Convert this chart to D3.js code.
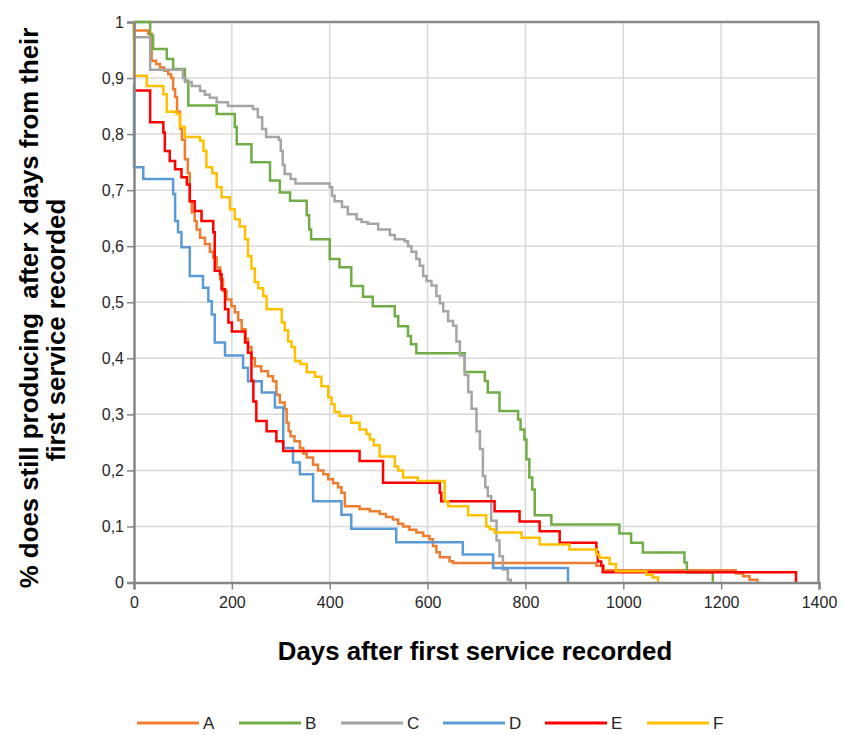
<!DOCTYPE html>
<html><head><meta charset="utf-8">
<script src="https://cdn.jsdelivr.net/npm/d3@7"></script>
<style>body{margin:0;background:#fff;}svg{display:block;font-family:"Liberation Sans",Arial,sans-serif;}</style>
</head><body><svg id="chart" width="842" height="735"></svg>
<script>
const seriesNames = ["A","B","C","D","E","F"];
const seriesColors = ["#ED7D31","#70AD47","#A5A5A5","#5B9BD5","#FF0000","#FFC000"];
const xTicks = [0,200,400,600,800,1000,1200,1400];
const yTicks = [0,0.1,0.2,0.3,0.4,0.5,0.6,0.7,0.8,0.9,1];
const yTickLabels = ["0","0,1","0,2","0,3","0,4","0,5","0,6","0,7","0,8","0,9","1"];
const xTitle = "Days after first service recorded";
const yTitleLines = ["% does still producing  after x days from their","first service recorded"];

// [day, share still producing] step points
const seriesA = [[0,1],[0,0.985],[29,0.979],[36,0.931],[45,0.925],[53,0.919],[62,0.913],[70,0.907],[76,0.9],[80,0.88],[84,0.866],[88,0.84],[94,0.81],[98,0.79],[104,0.755],[110,0.73],[114,0.68],[118,0.66],[124,0.645],[128,0.63],[135,0.615],[145,0.604],[155,0.59],[162,0.58],[169,0.562],[176,0.541],[182,0.52],[189,0.505],[199,0.493],[206,0.482],[213,0.468],[220,0.452],[228,0.435],[233,0.42],[240,0.4],[247,0.386],[260,0.377],[274,0.368],[284,0.359],[291,0.335],[298,0.321],[308,0.309],[312,0.285],[316,0.27],[320,0.261],[328,0.252],[339,0.24],[346,0.23],[353,0.223],[366,0.21],[376,0.2],[387,0.193],[397,0.184],[407,0.177],[417,0.17],[424,0.16],[431,0.136],[461,0.131],[482,0.127],[502,0.122],[515,0.117],[529,0.1125],[540,0.105],[550,0.1],[563,0.094],[577,0.089],[591,0.083],[604,0.077],[611,0.065],[618,0.054],[625,0.045],[645,0.038],[652,0.035],[945,0.03],[960,0.022],[1230,0.016],[1245,0.011],[1258,0.005],[1274,0]];
const seriesB = [[0,1],[33,0.976],[39,0.952],[67,0.934],[80,0.916],[104,0.895],[111,0.851],[169,0.836],[206,0.8125],[210,0.782],[240,0.75],[278,0.717],[298,0.696],[319,0.681],[353,0.655],[358,0.63],[362,0.6125],[400,0.577],[420,0.5625],[444,0.529],[468,0.51],[488,0.493],[533,0.475],[540,0.457],[560,0.44],[566,0.425],[577,0.409],[676,0.3755],[717,0.3595],[723,0.339],[747,0.306],[785,0.291],[790,0.273],[798,0.255],[802,0.22],[808,0.1875],[814,0.166],[819,0.12],[853,0.1036],[992,0.0875],[1016,0.071],[1040,0.0536],[1125,0.0357],[1130,0.018],[1183,0]];
const seriesC = [[0,1],[0,0.973],[33,0.915],[100,0.9],[105,0.893],[118,0.886],[135,0.877],[145,0.87],[155,0.865],[169,0.857],[192,0.85],[243,0.845],[253,0.83],[262,0.809],[270,0.795],[296,0.79],[300,0.77],[304,0.745],[308,0.729],[320,0.72],[330,0.712],[400,0.705],[405,0.69],[410,0.68],[425,0.67],[437,0.657],[455,0.648],[465,0.643],[478,0.64],[499,0.63],[523,0.62],[533,0.6125],[553,0.609],[560,0.6],[567,0.59],[577,0.577],[584,0.565],[591,0.547],[598,0.538],[608,0.53],[618,0.511],[625,0.498],[632,0.484],[642,0.4666],[652,0.458],[659,0.43],[666,0.405],[676,0.37],[683,0.34],[690,0.31],[700,0.27],[707,0.238],[713,0.19],[718,0.17],[723,0.154],[730,0.11],[741,0.075],[747,0.047],[754,0.023],[764,0.005],[770,0]];
const seriesD = [[0,0.89],[0,0.741],[19,0.72],[80,0.693],[84,0.645],[90,0.625],[97,0.598],[114,0.547],[141,0.526],[152,0.502],[159,0.478],[165,0.428],[186,0.405],[223,0.383],[233,0.359],[261,0.339],[288,0.312],[305,0.24],[325,0.214],[339,0.193],[366,0.145],[424,0.121],[444,0.0958],[536,0.072],[672,0.05],[734,0.026],[887,0]];
const seriesE = [[0,0.878],[33,0.821],[60,0.803],[63,0.77],[73,0.752],[84,0.7375],[97,0.723],[108,0.71],[114,0.68],[124,0.663],[138,0.645],[162,0.625],[165,0.556],[176,0.55],[179,0.523],[186,0.4875],[193,0.464],[200,0.448],[227,0.428],[233,0.41],[240,0.36],[244,0.323],[250,0.288],[271,0.27],[291,0.252],[305,0.2345],[461,0.2166],[509,0.178],[625,0.16],[628,0.145],[737,0.127],[788,0.109],[829,0.0916],[870,0.071],[945,0.054],[948,0.0375],[955,0.03],[958,0.0184],[1353,0]];
const seriesF = [[0,1],[0,0.904],[26,0.886],[60,0.871],[67,0.84],[87,0.836],[94,0.8125],[104,0.795],[135,0.788],[142,0.77],[148,0.741],[160,0.73],[169,0.705],[179,0.6875],[196,0.666],[206,0.648],[216,0.635],[227,0.6125],[233,0.582],[240,0.56],[247,0.536],[254,0.525],[264,0.511],[271,0.4875],[302,0.464],[308,0.45],[315,0.43],[322,0.42],[329,0.395],[340,0.39],[353,0.375],[370,0.367],[383,0.35],[397,0.33],[404,0.318],[410,0.304],[420,0.297],[444,0.285],[461,0.273],[475,0.265],[482,0.255],[490,0.245],[502,0.225],[533,0.207],[540,0.2],[550,0.1875],[580,0.181],[635,0.145],[642,0.136],[683,0.12],[720,0.1],[727,0.095],[737,0.089],[792,0.08],[829,0.068],[890,0.059],[945,0.05],[951,0.044],[972,0.033],[985,0.02],[1047,0.014],[1060,0.009],[1071,0]];
const allSeries = [seriesA,seriesB,seriesC,seriesD,seriesE,seriesF];

const svg = d3.select("#chart");
const x = d3.scaleLinear().domain([0,1400]).range([134,819]);
const y = d3.scaleLinear().domain([0,1]).range([582.5,22]);

// gridlines
const grid = svg.append("g");
grid.selectAll("line.h").data(yTicks.slice(1,-1)).join("line")
  .attr("x1",x(0)).attr("x2",x(1400)).attr("y1",d=>y(d)).attr("y2",d=>y(d))
  .attr("stroke","#d9d9d9").attr("stroke-width",1.5);
grid.selectAll("line.v").data(xTicks.slice(1,-1)).join("line")
  .attr("y1",y(0)).attr("y2",y(1)).attr("x1",d=>x(d)).attr("x2",d=>x(d))
  .attr("stroke","#d9d9d9").attr("stroke-width",1.5);

// frame (top + right)
svg.append("line").attr("x1",x(0)).attr("x2",x(1400)).attr("y1",y(1)).attr("y2",y(1)).attr("stroke","#8c8c8c").attr("stroke-width",2.5);
svg.append("line").attr("x1",818.5).attr("x2",818.5).attr("y1",y(1)).attr("y2",y(0)).attr("stroke","#8c8c8c").attr("stroke-width",2.5);

// series
const line = d3.line().x(d=>x(d[0])).y(d=>y(d[1])).curve(d3.curveStepAfter);
svg.append("g").selectAll("path").data(allSeries).join("path")
  .attr("d",line).attr("fill","none")
  .attr("stroke",(d,i)=>seriesColors[i]).attr("stroke-width",2.5)
  .attr("stroke-linejoin","miter");

// axes
const yAxis = d3.axisLeft(y).tickValues(yTicks).tickSize(7).tickPadding(3)
  .tickFormat((d,i)=>yTickLabels[i]);
const gy = svg.append("g").attr("transform",`translate(${x(0)},0)`).call(yAxis);
const xAxis = d3.axisBottom(x).tickValues(xTicks).tickSize(7).tickPadding(7)
  .tickFormat(d=>String(d));
const gx = svg.append("g").attr("transform",`translate(0,${y(0)})`).call(xAxis);
[gx,gy].forEach(g=>{
  g.select(".domain").attr("stroke","#868686").attr("stroke-width",2.5);
  g.selectAll(".tick line").attr("stroke","#868686").attr("stroke-width",1.5);
  g.selectAll(".tick text").attr("fill","#262626").style("font-size","16px")
   .style("font-family","'Liberation Sans',Arial,sans-serif");
});

// titles
svg.append("text").attr("x",475).attr("y",660).attr("text-anchor","middle")
  .style("font-size","25.8px").style("font-weight","bold").attr("fill","#000").text(xTitle);
const yt = svg.append("text").attr("transform","translate(38,308) rotate(-90)")
  .attr("text-anchor","middle").style("font-size","25.8px").style("font-weight","bold").attr("fill","#000")
  .attr("xml:space","preserve");
yt.append("tspan").attr("x",0).attr("dy",0).text(yTitleLines[0]);
yt.append("tspan").attr("x",-22).attr("dy",27).text(yTitleLines[1]);

// legend
const lg = svg.append("g");
seriesNames.forEach((n,i)=>{
  const x0 = 137 + i*102;
  lg.append("line").attr("x1",x0).attr("x2",x0+62).attr("y1",723).attr("y2",723)
    .attr("stroke",seriesColors[i]).attr("stroke-width",3);
  lg.append("text").attr("x",x0+66).attr("y",729).style("font-size","17px").attr("fill","#262626").text(n);
});
</script></body></html>
